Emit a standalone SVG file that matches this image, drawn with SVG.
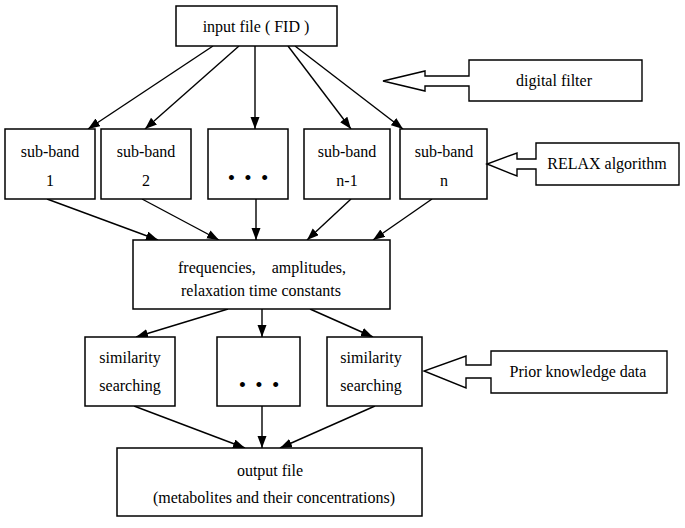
<svg xmlns="http://www.w3.org/2000/svg" width="685" height="528" viewBox="0 0 685 528">
<defs>
<style>
.box{fill:#fff;stroke:#000;stroke-width:1.5}
.t{font-family:"Liberation Serif","Times New Roman",serif;font-size:16px;fill:#000;text-anchor:middle}
.dots{font-family:"Liberation Serif","Times New Roman",serif;font-size:21px;fill:#000;text-anchor:middle;word-spacing:4px}
.c{fill:none;stroke:#000;stroke-width:1.4;marker-end:url(#ah)}
.blk{fill:#fff;stroke:#000;stroke-width:1.4;stroke-linejoin:miter}
</style>
<marker id="ah" markerUnits="userSpaceOnUse" markerWidth="13" markerHeight="10" refX="12" refY="4.5" orient="auto">
<path d="M0,0 L12,4.5 L0,9 z" fill="#000"/>
</marker>
</defs>
<rect width="685" height="528" fill="#fff"/>
<g id="connectors">
<line class="c" x1="213" y1="46" x2="88" y2="129"/>
<line class="c" x1="239" y1="46" x2="145" y2="129"/>
<line class="c" x1="255" y1="46" x2="255" y2="129"/>
<line class="c" x1="288" y1="46" x2="351" y2="129"/>
<line class="c" x1="295" y1="46" x2="403" y2="129"/>
<line class="c" x1="47" y1="199" x2="158" y2="240"/>
<line class="c" x1="142" y1="199" x2="219" y2="240"/>
<line class="c" x1="256" y1="199" x2="256" y2="240"/>
<line class="c" x1="351" y1="199" x2="307" y2="240"/>
<line class="c" x1="432" y1="199" x2="373" y2="240"/>
<line class="c" x1="228" y1="309" x2="136" y2="337"/>
<line class="c" x1="262" y1="309" x2="262" y2="337"/>
<line class="c" x1="310" y1="309" x2="373" y2="337"/>
<line class="c" x1="134" y1="406" x2="245" y2="448"/>
<line class="c" x1="262" y1="406" x2="262" y2="448"/>
<line class="c" x1="375" y1="406" x2="280" y2="448"/>
</g>
<g id="input">
<rect class="box" x="176" y="6" width="161" height="40"/>
<text class="t" x="256" y="32">input file ( FID )</text>
</g>
<g id="digital-filter">
<path class="blk" d="M469,60 H642 V101 H469 V86 H425 V91 L383,81 L425,71 V76 H469 Z"/>
<text class="t" x="554" y="86">digital filter</text>
</g>
<g id="sub1">
<rect class="box" x="5" y="129" width="90" height="70"/>
<text class="t" x="50" y="157">sub-band</text>
<text class="t" x="50" y="186">1</text>
</g>
<g id="sub2">
<rect class="box" x="101" y="129" width="90" height="70"/>
<text class="t" x="146" y="157">sub-band</text>
<text class="t" x="146" y="186">2</text>
</g>
<g id="sub-dots">
<rect class="box" x="208" y="129" width="80" height="70"/>
<text class="dots" x="248" y="185">• • •</text>
</g>
<g id="sub-n1">
<rect class="box" x="304" y="129" width="86" height="70"/>
<text class="t" x="347" y="157">sub-band</text>
<text class="t" x="347" y="186">n-1</text>
</g>
<g id="sub-n">
<rect class="box" x="400" y="129" width="87" height="70"/>
<text class="t" x="444" y="157">sub-band</text>
<text class="t" x="444" y="186">n</text>
</g>
<g id="relax">
<path class="blk" d="M536,143 H679 V185 H536 V169 H517 V176 L487,164 L517,153 V159 H536 Z"/>
<text class="t" x="607" y="169">RELAX algorithm</text>
</g>
<g id="params">
<rect class="box" x="133" y="240" width="257" height="69"/>
<text class="t" x="262" y="273" xml:space="preserve" style="white-space:pre">frequencies,    amplitudes,</text>
<text class="t" x="261" y="296">relaxation time constants</text>
</g>
<g id="sim1">
<rect class="box" x="85" y="337" width="90" height="69"/>
<text class="t" x="130" y="363">similarity</text>
<text class="t" x="130" y="391">searching</text>
</g>
<g id="sim-dots">
<rect class="box" x="217" y="337" width="83" height="69"/>
<text class="dots" x="259" y="392">• • •</text>
</g>
<g id="sim3">
<rect class="box" x="327" y="337" width="95" height="69"/>
<text class="t" x="371" y="363">similarity</text>
<text class="t" x="371" y="391">searching</text>
</g>
<g id="prior">
<path class="blk" d="M491,351 H667 V393 H491 V378 H466 V388 L424,371 L466,356 V365 H491 Z"/>
<text class="t" x="578" y="377">Prior knowledge data</text>
</g>
<g id="output">
<rect class="box" x="117" y="448" width="305" height="68"/>
<text class="t" x="270" y="476">output file</text>
<text class="t" x="274" y="503">(metabolites and their concentrations)</text>
</g>
</svg>
